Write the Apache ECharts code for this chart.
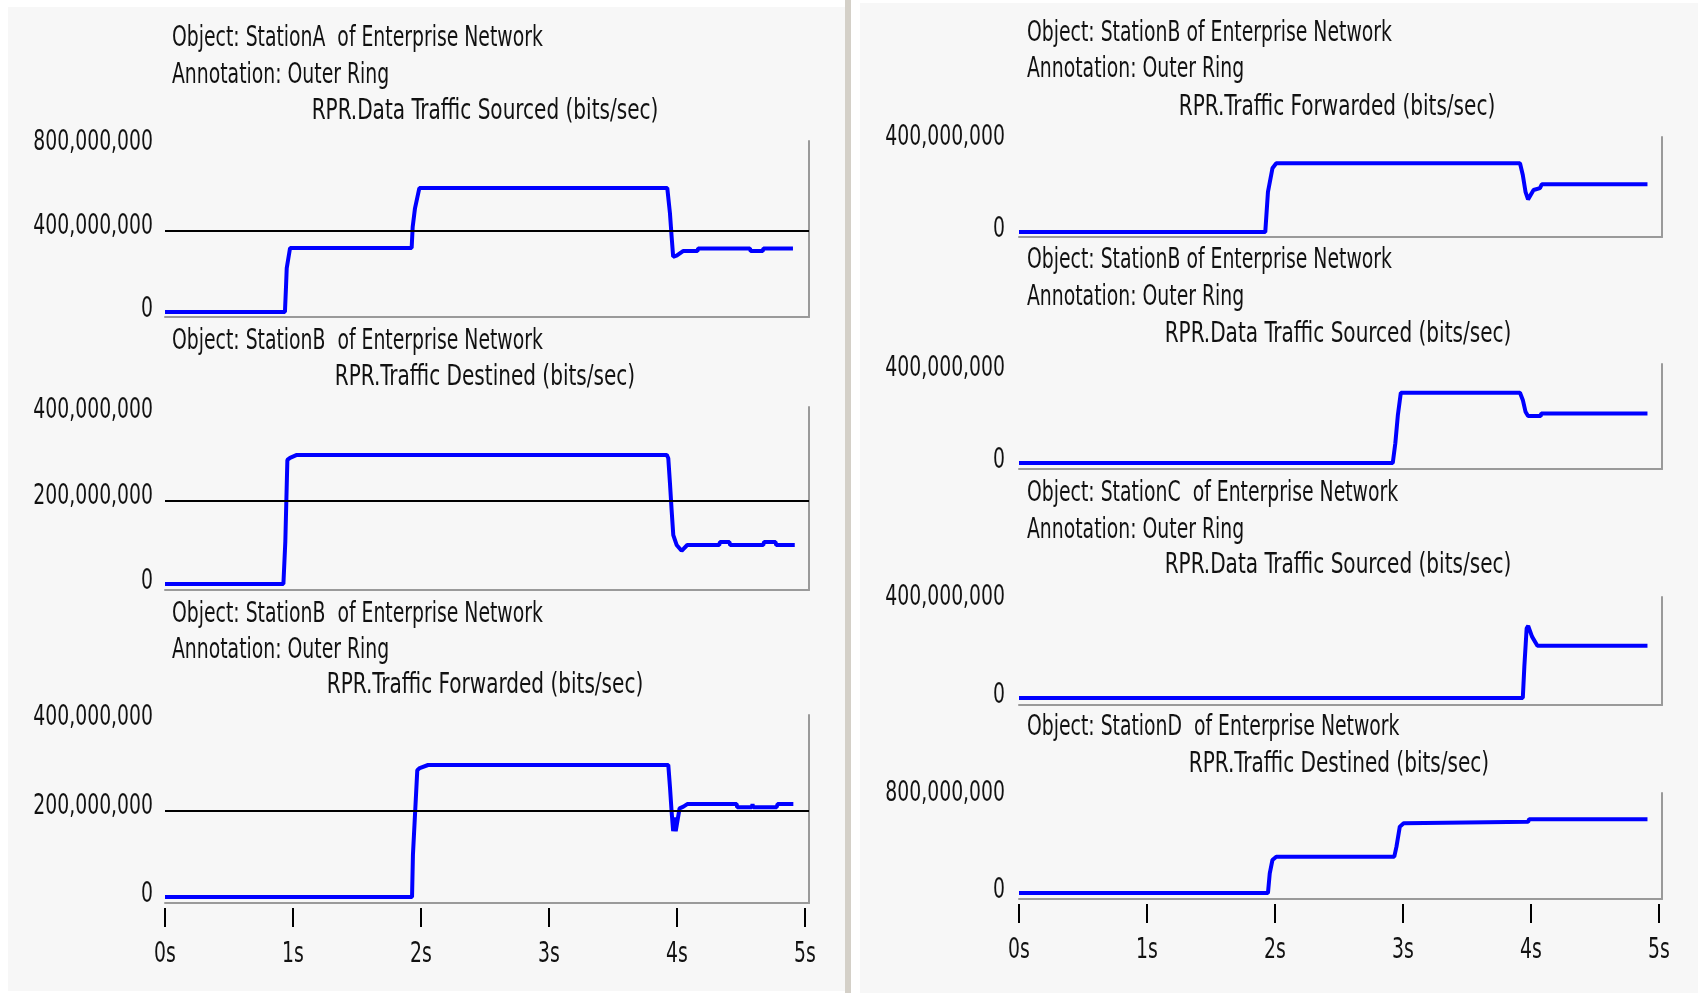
<!DOCTYPE html>
<html>
<head>
<meta charset="utf-8">
<script src="https://cdn.jsdelivr.net/npm/echarts@6/dist/echarts.min.js"></script>
<style>
html, body { margin: 0; padding: 0; background: #ffffff; }
#main { width: 1698px; height: 993px; }
</style>
</head>
<body>
<div id="main"></div>
<script>
// time ticks (s)
const timeTicks = [0, 1, 2, 3, 4, 5];

// StationA, Outer Ring - RPR.Data Traffic Sourced (bits/sec)
const aSrcT = [0, 0.937, 0.945, 0.951, 0.977, 1.927, 1.935, 1.953, 1.987, 3.924, 3.945, 3.958, 3.970, 3.984, 3.997, 4.047, 4.16, 4.165, 4.57, 4.575, 4.67, 4.675, 4.906];
const aSrcV = [0, 0, 119e6, 217e6, 316e6, 316e6, 420e6, 512e6, 612e6, 612e6, 487e6, 372e6, 273e6, 265e6, 278e6, 301e6, 301e6, 314e6, 314e6, 301e6, 301e6, 314e6, 314e6];

// StationB - RPR.Traffic Destined
const bDstT = [0, 0.925, 0.94, 0.956, 0.977, 1.03, 3.92, 3.932, 3.945, 3.958, 3.971, 3.997, 4.036, 4.08, 4.33, 4.335, 4.41, 4.415, 4.674, 4.68, 4.77, 4.775, 4.92];
const bDstV = [0, 0, 102e6, 299e6, 304e6, 311e6, 311e6, 303e6, 243e6, 178e6, 118e6, 94e6, 80e6, 94e6, 94e6, 101e6, 101e6, 94e6, 94e6, 101e6, 101e6, 94e6, 94e6];

// StationB, Outer Ring - RPR.Traffic Forwarded (left)
const bFwdT = [0, 1.93, 1.937, 1.971, 1.99, 2.055, 3.932, 3.945, 3.958, 3.97, 3.98, 3.99, 4.02, 4.05, 4.08, 4.466, 4.47, 4.584, 4.59, 4.595, 4.779, 4.785, 4.909];
const bFwdV = [0, 0, 98e6, 295e6, 300e6, 307e6, 307e6, 256e6, 198e6, 153e6, 185e6, 153e6, 206e6, 210e6, 216e6, 216e6, 209e6, 209e6, 216e6, 209e6, 209e6, 216e6, 216e6];

// StationB, Outer Ring - RPR.Traffic Forwarded (right)
const bFwd2T = [0, 1.924, 1.945, 1.98, 2.01, 3.914, 3.936, 3.957, 3.977, 4.02, 4.07, 4.084, 4.91];
const bFwd2V = [0, 0, 185e6, 293e6, 316e6, 316e6, 262e6, 185e6, 150e6, 193e6, 202e6, 219e6, 219e6];

// StationB, Outer Ring - RPR.Data Traffic Sourced
const bSrcT = [0, 2.92, 2.94, 2.96, 2.983, 3.914, 3.936, 3.957, 3.977, 4.076, 4.08, 4.91];
const bSrcV = [0, 0, 91e6, 221e6, 323e6, 323e6, 290e6, 236e6, 216e6, 216e6, 228e6, 228e6];

// StationC, Outer Ring - RPR.Data Traffic Sourced
const cSrcT = [0, 3.936, 3.948, 3.966, 3.978, 4.008, 4.05, 4.91];
const cSrcV = [0, 0, 135e6, 300e6, 310e6, 264e6, 225e6, 225e6];

// StationD - RPR.Traffic Destined
const dDstT = [0, 1.945, 1.959, 1.98, 2.01, 2.932, 2.949, 2.975, 3.005, 3.02, 3.978, 3.985, 4.91];
const dDstV = [0, 0, 171e6, 287e6, 316e6, 316e6, 403e6, 577e6, 606e6, 620e6, 620e6, 641e6, 641e6];

// y tick labels
const ticks800 = [0, 400e6, 800e6];
const ticks400 = [0, 200e6, 400e6];
const ticks400r = [0, 400e6];
const ticks800r = [0, 800e6];

// pick a narrow font if one is installed, else stretch Liberation Sans a bit
const probe = document.createElement('canvas').getContext('2d');
function hasFont(name) {
    const s = 'Object: 400,000,000 abcxyzWM';
    let r = false;
    ['monospace', 'serif'].forEach(function (b) {
        probe.font = '40px ' + b; const w1 = probe.measureText(s).width;
        probe.font = "40px '" + name + "', " + b; const w2 = probe.measureText(s).width;
        if (w1 !== w2) r = true;
    });
    return r;
}
const candidates = ['Liberation Sans Narrow', 'Noto Sans ExtraCondensed', 'Noto Sans Condensed', 'DejaVu Sans Condensed', 'Liberation Sans'];
let FAM = 'sans-serif';
for (let k = 0; k < candidates.length; k++) { if (hasFont(candidates[k])) { FAM = candidates[k]; break; } }
const FONT = "'" + FAM + "', 'Liberation Sans', sans-serif";
function widthAt(str, size) { probe.font = size + 'px ' + FONT; return probe.measureText(str).width; }
const textSize = Math.min(29, 26 * 371 / widthAt('Object: StationA  of Enterprise Network', 26));
const textScaleY = Math.max(1, Math.min(1.6, 20 / (0.72 * textSize)));

function textEl(str, x, y, align, sx) {
    return { type: 'text', x: x, y: y, scaleY: textScaleY, scaleX: sx || 1,
        style: { text: str, fontFamily: FONT, fontSize: textSize, fill: '#111', align: align, verticalAlign: 'middle' } };
}

const panels = [
    { t: aSrcT, v: aSrcV, grid: { left: 165, top: 141, width: 644, height: 176 }, ymin: -24.7e6, ymax: 844.4e6, labels: ticks800, mid: 400e6, time: false, lm: 12,
      text: [['Object: StationA  of Enterprise Network', 172, 39, 'left'], ['Annotation: Outer Ring', 172, 76, 'left'], ['RPR.Data Traffic Sourced (bits/sec)', 485, 112, 'center']] },
    { t: bDstT, v: bDstV, grid: { left: 165, top: 407, width: 644, height: 183 }, ymin: -14.5e6, ymax: 426.6e6, labels: ticks400, mid: 200e6, time: false, lm: 12,
      text: [['Object: StationB  of Enterprise Network', 172, 342, 'left'], ['RPR.Traffic Destined (bits/sec)', 485, 378, 'center']] },
    { t: bFwdT, v: bFwdV, grid: { left: 165, top: 715, width: 644, height: 188 }, ymin: -14e6, ymax: 423.3e6, labels: ticks400, mid: 200e6, time: true, lm: 12,
      text: [['Object: StationB  of Enterprise Network', 172, 615, 'left'], ['Annotation: Outer Ring', 172, 651, 'left'], ['RPR.Traffic Forwarded (bits/sec)', 485, 686, 'center']] },
    { t: bFwd2T, v: bFwd2V, grid: { left: 1019, top: 137, width: 643, height: 100 }, ymin: -23e6, ymax: 436.8e6, labels: ticks400r, mid: null, time: false, lm: 14,
      text: [['Object: StationB of Enterprise Network', 1027, 34, 'left'], ['Annotation: Outer Ring', 1027, 70, 'left'], ['RPR.Traffic Forwarded (bits/sec)', 1337, 108, 'center']] },
    { t: bSrcT, v: bSrcV, grid: { left: 1019, top: 364, width: 643, height: 105 }, ymin: -27.6e6, ymax: 455.2e6, labels: ticks400r, mid: null, time: false, lm: 14,
      text: [['Object: StationB of Enterprise Network', 1027, 261, 'left'], ['Annotation: Outer Ring', 1027, 298, 'left'], ['RPR.Data Traffic Sourced (bits/sec)', 1338, 335, 'center']] },
    { t: cSrcT, v: cSrcV, grid: { left: 1019, top: 597, width: 643, height: 108 }, ymin: -30.1e6, ymax: 434.4e6, labels: ticks400r, mid: null, time: false, lm: 14,
      text: [['Object: StationC  of Enterprise Network', 1027, 494, 'left'], ['Annotation: Outer Ring', 1027, 531, 'left'], ['RPR.Data Traffic Sourced (bits/sec)', 1338, 566, 'center']] },
    { t: dDstT, v: dDstV, grid: { left: 1019, top: 793, width: 643, height: 106 }, ymin: -52.2e6, ymax: 869.6e6, labels: ticks800r, mid: null, time: true, lm: 14,
      text: [['Object: StationD  of Enterprise Network', 1027, 728, 'left'], ['RPR.Traffic Destined (bits/sec)', 1339, 765, 'center']] }
];

const grids = [], xAxes = [], yAxes = [], series = [], graphics = [];

// panel backgrounds and the splitter between them
graphics.push({ type: 'rect', z: -100, shape: { x: 8, y: 7, width: 837, height: 984 }, style: { fill: '#f7f7f7' } });
graphics.push({ type: 'rect', z: -100, shape: { x: 845, y: 0, width: 6, height: 993 }, style: { fill: '#d4d0c8' } });
graphics.push({ type: 'rect', z: -100, shape: { x: 860, y: 3, width: 838, height: 990 }, style: { fill: '#f7f7f7' } });

panels.forEach(function (p, i) {
    grids.push(p.grid);
    p.xi = xAxes.length;
    // frame bottom
    xAxes.push({
        type: 'value', gridIndex: i, min: 0, max: p.grid.width / 128, position: 'bottom',
        axisLine: { show: true, onZero: false, lineStyle: { color: '#9a9a9a', width: 2 } },
        axisTick: { show: false }, axisLabel: { show: false }, splitLine: { show: false }
    });
    if (p.time) {
        // time ticks hang a little below the frame
        xAxes.push({
            type: 'value', gridIndex: i, min: 0, max: p.grid.width / 128, position: 'bottom', offset: 5,
            axisLine: { show: false, onZero: false }, axisLabel: { show: false }, splitLine: { show: false },
            axisTick: { show: true, customValues: timeTicks, length: 19, lineStyle: { color: '#000', width: 2 } }
        });
    }
    yAxes.push({
        type: 'value', gridIndex: i, min: p.ymin, max: p.ymax, position: 'left',
        axisLine: { show: false, onZero: false }, axisTick: { show: false }, splitLine: { show: false }, axisLabel: { show: false }
    });
    // right frame line
    yAxes.push({
        type: 'value', gridIndex: i, min: p.ymin, max: p.ymax, position: 'right',
        axisLine: { show: true, onZero: false, lineStyle: { color: '#9a9a9a', width: 2 } },
        axisTick: { show: false }, axisLabel: { show: false }, splitLine: { show: false }
    });
    const s = {
        type: 'line', xAxisIndex: p.xi, yAxisIndex: i * 2, symbol: 'none', animation: false,
        lineStyle: { color: '#0000ff', width: 4 },
        data: p.t.map(function (t, k) { return [t, p.v[k]]; })
    };
    if (p.mid !== null) {
        s.markLine = { symbol: ['none', 'none'], silent: true, animation: false, label: { show: false },
            lineStyle: { color: '#000', width: 2, type: 'solid' }, data: [{ yAxis: p.mid }] };
    }
    series.push(s);
    p.text.forEach(function (l) {
        graphics.push(textEl(l[0], l[1], l[2], l[3], l[3] === 'center' ? 1.065 : 1));
    });
});

const myChart = echarts.init(document.getElementById('main'));
myChart.setOption({
    backgroundColor: '#ffffff',
    animation: false,
    grid: grids,
    xAxis: xAxes,
    yAxis: yAxes,
    graphic: graphics,
    series: series
});

// tick labels in the same tall narrow lettering, placed through the axes' own scales
const tickTexts = [];
panels.forEach(function (p, i) {
    const x0 = myChart.convertToPixel({ xAxisIndex: p.xi }, 0);
    const yBase = myChart.convertToPixel({ yAxisIndex: i * 2 }, p.ymin);
    const topVal = p.labels[p.labels.length - 1];
    p.labels.forEach(function (v) {
        const y = myChart.convertToPixel({ yAxisIndex: i * 2 }, v);
        tickTexts.push(textEl(Math.round(v).toLocaleString('en-US'), x0 - p.lm, y - (5 + 5 * v / topVal) + 3, 'right'));
    });
    if (p.time) {
        timeTicks.forEach(function (t) {
            const x = myChart.convertToPixel({ xAxisIndex: p.xi }, t);
            tickTexts.push(textEl(t + 's', x, yBase + 52, 'center'));
        });
    }
});
myChart.setOption({ graphic: graphics.concat(tickTexts) });
window.onresize = function () { myChart.resize(); };
</script>
</body>
</html>
